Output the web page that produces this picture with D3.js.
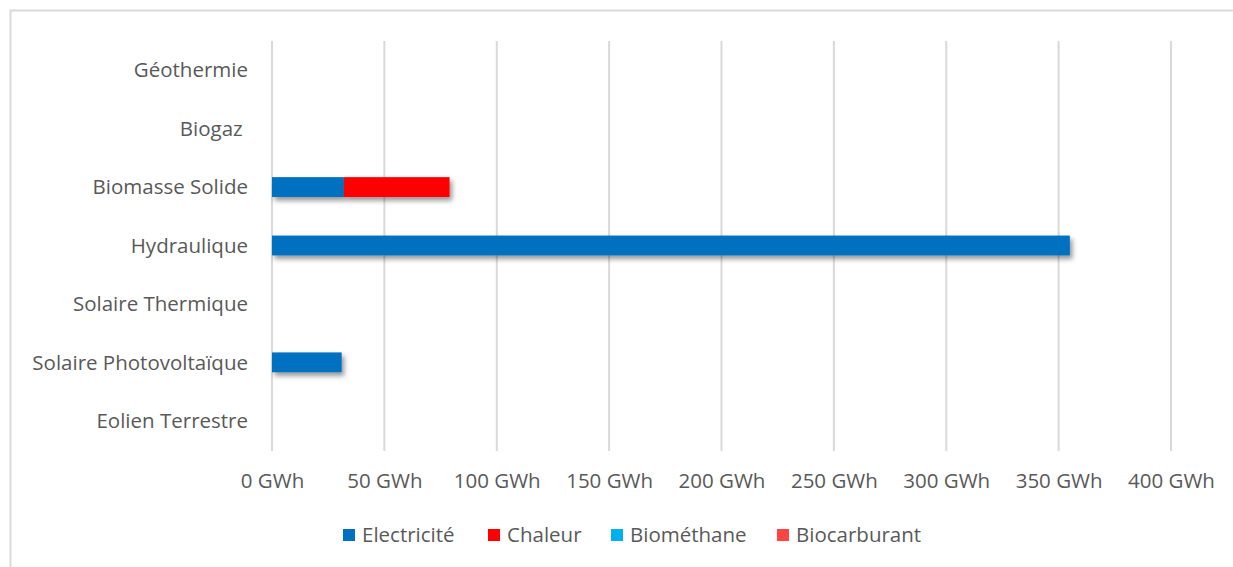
<!DOCTYPE html>
<html>
<head>
<meta charset="utf-8">
<script src="https://cdn.jsdelivr.net/npm/d3@7"></script>
<style>
  html, body { margin: 0; padding: 0; background: #fff; }
  svg text { font-family: "Open Sans", Lato, sans-serif; fill: #595959; }
</style>
</head>
<body>
<svg id="chart" width="1233" height="567"></svg>
<script>
// Filières (de haut en bas)
const categories = [
  "Géothermie",
  "Biogaz ",
  "Biomasse Solide",
  "Hydraulique",
  "Solaire Thermique",
  "Solaire Photovoltaïque",
  "Eolien Terrestre"
];
// Production par vecteur énergétique, en GWh
const electricite  = [0, 0, 32, 355, 0, 31, 0];
const chaleur      = [0, 0, 47, 0, 0, 0, 0];
const biomethane   = [0, 0, 0, 0, 0, 0, 0];
const biocarburant = [0, 0, 0, 0, 0, 0, 0];

const seriesNames  = ["Electricité", "Chaleur", "Biométhane", "Biocarburant"];
const seriesColors = ["#0070C0", "#FF0000", "#00B0F0", "#FF4343"];
const tickValues   = [0, 50, 100, 150, 200, 250, 300, 350, 400];

const seriesValues = [electricite, chaleur, biomethane, biocarburant];
const rows = categories.map((c, i) => {
  const r = { cat: c };
  seriesNames.forEach((s, k) => r[s] = seriesValues[k][i]);
  return r;
});

const svg = d3.select("#chart");
const fontSize = "20.5px";

// Cadre du graphique
svg.append("rect")
  .attr("x", 10.5).attr("y", 10.5)
  .attr("width", 1240).attr("height", 580)
  .attr("fill", "none").attr("stroke", "#d9d9d9").attr("stroke-width", 2);

const x = d3.scaleLinear().domain([0, 400]).range([272, 1171]);
const y = d3.scaleBand().domain(categories).range([41, 450])
  .paddingInner(0.66).paddingOuter(0.33);

// Ombre portée des barres
const defs = svg.append("defs");
const f = defs.append("filter").attr("id", "shadow")
  .attr("x", "-10%").attr("y", "-50%").attr("width", "130%").attr("height", "220%");
f.append("feDropShadow")
  .attr("dx", 2.5).attr("dy", 3.5).attr("stdDeviation", 2.8)
  .attr("flood-color", "#000").attr("flood-opacity", 0.42);

// Quadrillage vertical
svg.append("g").selectAll("line").data(tickValues).join("line")
  .attr("x1", d => x(d)).attr("x2", d => x(d))
  .attr("y1", 41).attr("y2", 451)
  .attr("stroke", "#d9d9d9").attr("stroke-width", 2);

// Axe des valeurs
const xAxis = d3.axisBottom(x).tickValues(tickValues)
  .tickFormat(d => d + " GWh").tickSize(0).tickPadding(0);
const gx = svg.append("g").attr("transform", "translate(0,481)").call(xAxis);
gx.select(".domain").remove();
gx.selectAll("text").style("font-size", fontSize).attr("y", 0).attr("dy", "0.35em");

// Axe des catégories
const yAxis = d3.axisLeft(y).tickSize(0).tickPadding(0);
const gy = svg.append("g").attr("transform", "translate(248,0)").call(yAxis);
gy.select(".domain").remove();
gy.selectAll("text").style("font-size", fontSize).style("white-space", "pre")
  .attr("dy", "0.35em");

// Barres empilées
const stack = d3.stack().keys(seriesNames)(rows);
svg.append("g").selectAll("g").data(stack).join("g")
  .attr("fill", (d, i) => seriesColors[i])
  .selectAll("rect")
  .data(d => d.filter(p => p[1] - p[0] > 0))
  .join("rect")
  .attr("x", d => x(d[0]))
  .attr("y", d => y(d.data.cat))
  .attr("width", d => x(d[1]) - x(d[0]))
  .attr("height", y.bandwidth())
  .attr("filter", "url(#shadow)");

// Légende
const legendX = [343, 488, 611, 777];
const lg = svg.append("g").selectAll("g").data(seriesNames).join("g")
  .attr("transform", (d, i) => `translate(${legendX[i]},535)`);
lg.append("rect").attr("x", 0).attr("y", -6).attr("width", 12).attr("height", 12)
  .attr("fill", (d, i) => seriesColors[i]);
lg.append("text").attr("x", 19).attr("dy", "0.35em")
  .style("font-size", fontSize).text(d => d);
</script>
</body>
</html>
